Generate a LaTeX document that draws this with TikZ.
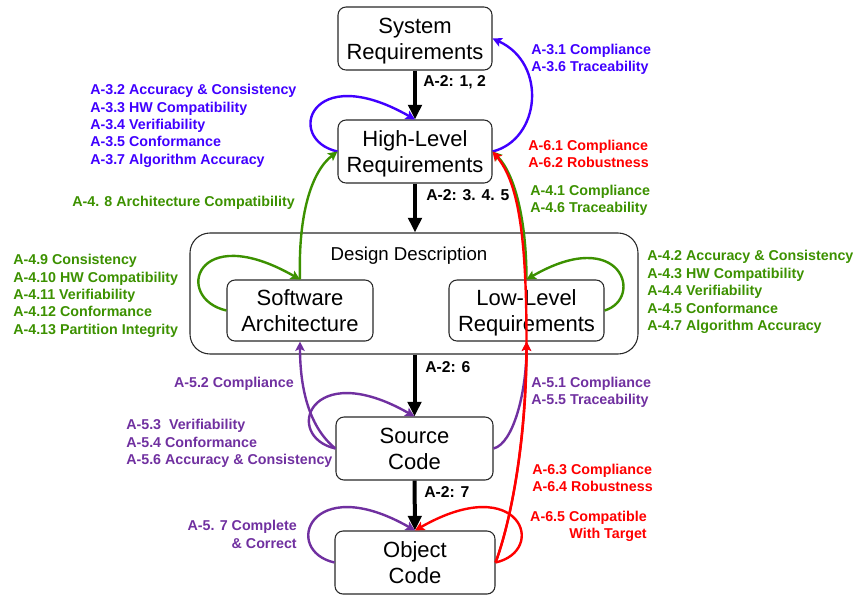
\documentclass[tikz,border=0pt]{standalone}
\usepackage{fontspec}
\setmainfont{Liberation Sans}
\usetikzlibrary{arrows.meta}
\definecolor{reqBlue}{RGB}{64,0,255}
\definecolor{reqGreen}{RGB}{60,145,0}
\definecolor{reqPurple}{RGB}{112,48,160}
\definecolor{reqRed}{RGB}{255,0,0}
\tikzset{
  box/.style={draw={rgb,255:red,40;green,40;blue,40}, line width=0.8pt, rounded corners=6pt, fill=white,
    align=center, inner sep=0pt, text height=31.5pt, text depth=-3.5pt, font=\fontsize{16.5}{19.5}\selectfont},
  flow/.style={line width=3pt, -{Triangle[length=11pt,width=10pt]}},
  link/.style={line width=1.8pt, -{Stealth[length=7pt,width=7pt,inset=1.5pt]}},
  lbl/.style={inner sep=0pt, align=left, font=\fontsize{10.7}{13}\selectfont\bfseries},
  flowlbl/.style={inner sep=0pt, anchor=west, font=\fontsize{11.8}{14}\selectfont\bfseries},
}
\begin{document}
\begin{tikzpicture}[x=0.75pt,y=0.75pt,yscale=-1,xscale=1]
        \useasboundingbox (0,0) rectangle (856,597);

        % Boxes
        \node[box, minimum width=115.5pt, minimum height=47.25pt] (sys) at (415,38.5) {System\\Requirements};
        \node[box, minimum width=115.5pt, minimum height=47.25pt] (hlr) at (415,151.5) {High-Level\\Requirements};
        \node[box, rounded corners=15pt, minimum width=336pt, minimum height=90.75pt, text height=, text depth=] (dd) at (414,293.5) {};
        \node[inner sep=0pt, font=\fontsize{14}{16}\selectfont] (ddtitle) at (409,256) {Design Description};
        \node[box, minimum width=109.5pt, minimum height=45.75pt] (sa) at (300,310.5) {Software\\Architecture};
        \node[box, minimum width=116.25pt, minimum height=45.75pt] (llr) at (526.5,310.5) {Low-Level\\Requirements};
        \node[box, minimum width=117.75pt, minimum height=47.25pt] (src) at (414.5,448.5) {Source\\Code};
        \node[box, minimum width=120pt, minimum height=47.25pt] (obj) at (415,562.5) {Object\\Code};

        % Main flow
        \draw[flow] (sys) -- (hlr);
        \draw[flow] (hlr.south) -- (hlr.south |- dd.north);
        \draw[flow] (src.north |- dd.south) -- (src.north);
        \draw[flow] (src) -- (obj);
        \node[flowlbl] (flowa) at (423,82) {A-2: 1, 2};
        \node[flowlbl] (flowb) at (426,195) {A-2: 3. 4. 5};
        \node[flowlbl] (flowc) at (425,367) {A-2: 6};
        \node[flowlbl] (flowd) at (424,492) {A-2: 7};

        % A-3 (blue)
        \draw[link, reqBlue] (hlr.east) .. controls +(48,-12) and +(55,25) .. (sys.east);
        \draw[link, reqBlue] (hlr.west) .. controls +(-53,-12) and +(-105,-60) .. (hlr.north);
        \node[lbl, anchor=west, reqBlue] (blueR) at (531,59) {A-3.1 Compliance\\A-3.6 Traceability};
        \node[lbl, anchor=west, reqBlue] (blueL) at (90,126) {A-3.2 Accuracy \& Consistency\\A-3.3 HW Compatibility\\A-3.4 Verifiability\\A-3.5 Conformance\\A-3.7 Algorithm Accuracy};

        % A-4 (green)
        \draw[link, reqGreen] (sa.north) .. controls +(-2,-65) and +(-26,20) .. (hlr.west);
        \draw[link, reqGreen] (llr.north) .. controls +(0,-60) and +(22,22) .. (hlr.east);
        \draw[link, reqGreen] (sa.west) .. controls +(-53,-12) and +(-105,-60) .. (sa.north);
        \draw[link, reqGreen] (llr.east) .. controls +(40,-12) and +(95,-55) .. (llr.north);
        \node[lbl, anchor=west, reqGreen] (greenA) at (72,203) {A-4. 8 Architecture Compatibility};
        \node[lbl, anchor=west, reqGreen] (greenB) at (530,200) {A-4.1 Compliance\\A-4.6 Traceability};
        \node[lbl, anchor=west, reqGreen] (greenL) at (13,296) {A-4.9 Consistency\\A-4.10 HW Compatibility\\A-4.11 Verifiability\\A-4.12 Conformance\\A-4.13 Partition Integrity};
        \node[lbl, anchor=west, reqGreen] (greenR) at (647,292) {A-4.2 Accuracy \& Consistency\\A-4.3 HW Compatibility\\A-4.4 Verifiability\\A-4.5 Conformance\\A-4.7 Algorithm Accuracy};

        % A-5 (purple)
        \draw[link, reqPurple] (src.east) .. controls +(20,-5) and +(0,50) .. (llr.south);
        \draw[link, reqPurple] (src.west) .. controls +(-25,-20) and +(0,50) .. (sa.south);
        \draw[link, reqPurple] (src.west) .. controls +(-53,-12) and +(-105,-60) .. (src.north);
        \draw[link, reqPurple] (obj.west) .. controls +(-53,-12) and +(-105,-60) .. (obj.north);
        \node[lbl, anchor=east, reqPurple] (purpleA) at (294,384) {A-5.2 Compliance};
        \node[lbl, anchor=west, reqPurple] (purpleL) at (126,443.5) {A-5.3\ \ Verifiability\\A-5.4 Conformance\\A-5.6 Accuracy \& Consistency};
        \node[lbl, anchor=west, reqPurple] (purpleR) at (531,392.5) {A-5.1 Compliance\\A-5.5 Traceability};
        \node[lbl, anchor=east, align=right, reqPurple] (purpleB) at (297,534.5) {A-5. 7 Complete\\\& Correct};

        % A-6 (red)
        \draw[link, reqRed] (obj.east) .. controls +(15,-40) and +(0,100) .. (llr.south);
        \draw[link, reqRed] (obj.east) .. controls +(15,-40) and +(0,100) .. (llr.south)
            .. controls +(0,-110) and +(25,30) .. (hlr.east);
        \draw[link, reqRed] (obj.east) .. controls +(53,-12) and +(105,-60) .. (obj.north);
        \node[lbl, anchor=west, reqRed] (redA) at (528,154) {A-6.1 Compliance\\A-6.2 Robustness};
        \node[lbl, anchor=west, reqRed] (redB) at (532,478) {A-6.3 Compliance\\A-6.4 Robustness};
        \node[lbl, anchor=east, align=right, reqRed] (redC) at (647,526.5) {A-6.5 Compatible\\With Target};
    \end{tikzpicture}
\end{document}
